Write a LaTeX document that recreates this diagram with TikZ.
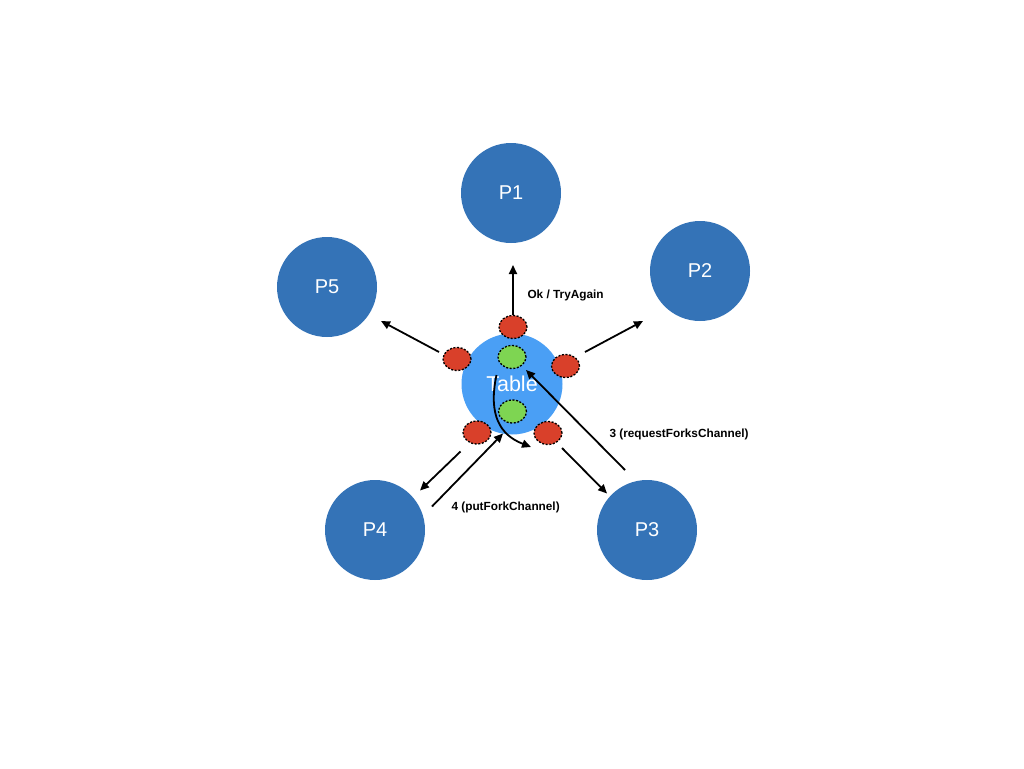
\documentclass[tikz,border=0pt]{standalone}
\usepackage{fontspec}
\setmainfont{Liberation Sans}
\usetikzlibrary{shapes.geometric,arrows.meta}
\definecolor{pblue}{HTML}{3473B7}
\definecolor{tblue}{HTML}{4A9FF5}
\definecolor{fred}{HTML}{D9402A}
\definecolor{fgreen}{HTML}{7ED552}
\tikzset{
  proc/.style={circle,fill=pblue,minimum size=100pt,inner sep=0pt,text=white,font=\fontsize{20}{24}\selectfont},
  tbl/.style={circle,fill=tblue,minimum size=101pt,inner sep=0pt,text=white,font=\fontsize{21.5}{25}\selectfont},
  fork/.style={ellipse,draw=black,line width=1.3pt,dash pattern=on 2pt off 1.6pt,minimum width=28pt,minimum height=23pt,inner sep=0pt},
  redfork/.style={fork,fill=fred},
  greenfork/.style={fork,fill=fgreen},
  arr/.style={line width=1.8pt,-{Triangle[length=9pt,width=8pt]}},
  lbl/.style={font=\fontsize{11.8}{14}\selectfont\bfseries,anchor=west}
}
\begin{document}
\begin{tikzpicture}[x=1pt,y=-1pt]
\useasboundingbox (0,0) rectangle (1024,768);
\node[proc] (P1) at (511,193) {P1};
\node[proc] (P2) at (700,271) {P2};
\node[proc] (P5) at (327,287) {P5};
\node[proc] (P4) at (375,530) {P4};
\node[proc] (P3) at (647,530) {P3};
\node[tbl] (T) at (512,384) {Table};
\node[greenfork] (g1) at (512,357) {};
\node[greenfork] (g2) at (512.5,411.5) {};
\node[redfork] (rT) at (513,327) {};
\node[redfork] (rL) at (457,359) {};
\node[redfork] (rR) at (565.5,366) {};
\node[redfork] (rBL) at (477,432.5) {};
\node[redfork] (rBR) at (548,433) {};
% endpoints
\coordinate (upE) at (513,265);
\coordinate (lS) at (439,352);
\coordinate (lE) at (381,321);
\coordinate (rS) at (585,352);
\coordinate (rE) at (643,321);
\coordinate (blS) at (460.5,451.5);
\coordinate (blE) at (420,490.5);
\coordinate (pfS) at (432,506.5);
\coordinate (pfE) at (503,433.5);
\coordinate (brS) at (562,448);
\coordinate (brE) at (607,493.5);
\coordinate (rqS) at (625,470);
\coordinate (rqE) at (526,370);
\coordinate (cvS) at (496.5,375);
\coordinate (cvE) at (531,447);
\draw[arr] (rT.north) -- (upE);
\draw[arr] (lS) -- (lE);
\draw[arr] (rS) -- (rE);
\draw[arr] (blS) -- (blE);
\draw[arr] (pfS) -- (pfE);
\draw[arr] (brS) -- (brE);
\draw[arr] (rqS) -- (rqE);
\draw[arr] (cvS) .. controls (488,415) and (500,435) .. (cvE);
\node[lbl] (l1) at (524,295) {Ok / TryAgain};
\node[lbl] (l2) at (606,434) {3 (requestForksChannel)};
\node[lbl] (l3) at (448,507) {4 (putForkChannel)};
\end{tikzpicture}
\end{document}
